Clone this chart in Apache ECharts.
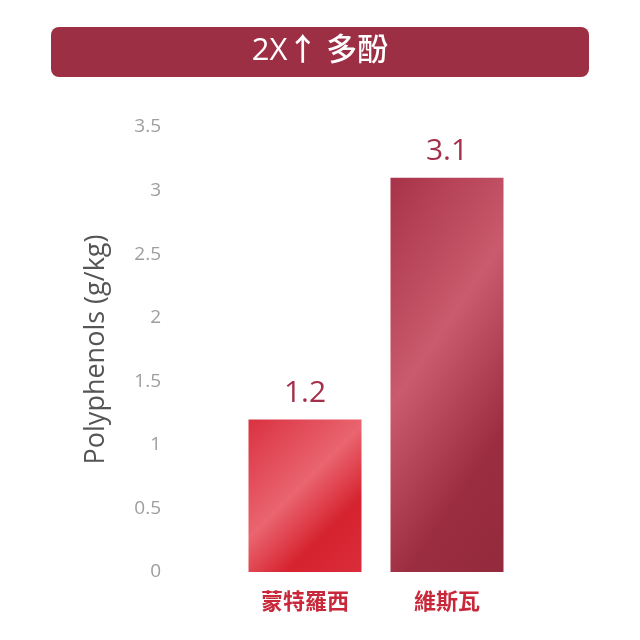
<!DOCTYPE html>
<html>
<head>
    <meta charset="utf-8">
    <title>2X 多酚</title>
    <script src="https://cdn.jsdelivr.net/npm/echarts@6/dist/echarts.min.js"></script>
    <style>
        html, body { margin: 0; padding: 0; background: #ffffff; }
        #chart { width: 640px; height: 640px; }
    </style>
</head>
<body>
<div id="chart"></div>
<script>
    // 數據
    var categories = ['蒙特羅西', '維斯瓦'];
    var values = [1.2, 3.1];
    var yTicks = [0, 0.5, 1, 1.5, 2, 2.5, 3, 3.5];

    var fontFamily = '"Open Sans", "Noto Sans CJK TC", sans-serif';

    // 每根柱子的斜向漸層（亮帶斜穿柱身）
    var gradients = [
        new echarts.graphic.LinearGradient(0, 0, 1.17, 0.87, [
            { offset: 0, color: '#da3141' },
            { offset: 0.45, color: '#e9656f' },
            { offset: 0.72, color: '#d62330' },
            { offset: 1, color: '#da2c3a' }
        ]),
        new echarts.graphic.LinearGradient(0, 0, 2.3, 0.447, [
            { offset: 0, color: '#a83349' },
            { offset: 0.41, color: '#ca5a6d' },
            { offset: 0.75, color: '#9c2d41' },
            { offset: 1, color: '#932a3d' }
        ])
    ];

    var chart = echarts.init(document.getElementById('chart'));
    chart.setOption({
        backgroundColor: '#ffffff',
        animation: false,
        title: {
            text: '2X\u2191 多酚',
            left: 'center',
            top: 31,
            textStyle: {
                color: '#ffffff',
                fontSize: 31,
                fontWeight: 500,
                fontFamily: fontFamily
            }
        },
        graphic: [{
            type: 'rect',
            z: -1,
            shape: { x: 51, y: 27, width: 538, height: 50, r: 8 },
            style: { fill: '#9c2f43' }
        }],
        grid: {
            left: 234,
            width: 284,
            top: 127,
            bottom: 68
        },
        xAxis: {
            type: 'category',
            data: categories,
            axisLine: { show: false },
            axisTick: { show: false },
            axisLabel: {
                margin: 20,
                color: '#c8283a',
                fontSize: 22,
                fontWeight: 'bold',
                fontFamily: fontFamily
            }
        },
        yAxis: {
            type: 'value',
            min: yTicks[0],
            max: yTicks[yTicks.length - 1],
            interval: 0.5,
            name: 'Polyphenols (g/kg)',
            nameLocation: 'middle',
            nameGap: 124,
            nameTextStyle: {
                color: '#555555',
                fontSize: 27,
                fontWeight: 500,
                fontFamily: fontFamily
            },
            axisLine: { show: false },
            axisTick: { show: false },
            splitLine: { show: false },
            axisLabel: {
                margin: 73,
                color: '#9e9e9e',
                fontSize: 19,
                fontFamily: fontFamily
            }
        },
        series: [{
            type: 'bar',
            barWidth: 113,
            data: values.map(function (v, i) {
                return { value: v, itemStyle: { color: gradients[i] } };
            }),
            label: {
                show: true,
                position: 'top',
                distance: 11,
                color: '#a3304a',
                fontSize: 30,
                fontFamily: fontFamily
            }
        }]
    });
</script>
</body>
</html>
